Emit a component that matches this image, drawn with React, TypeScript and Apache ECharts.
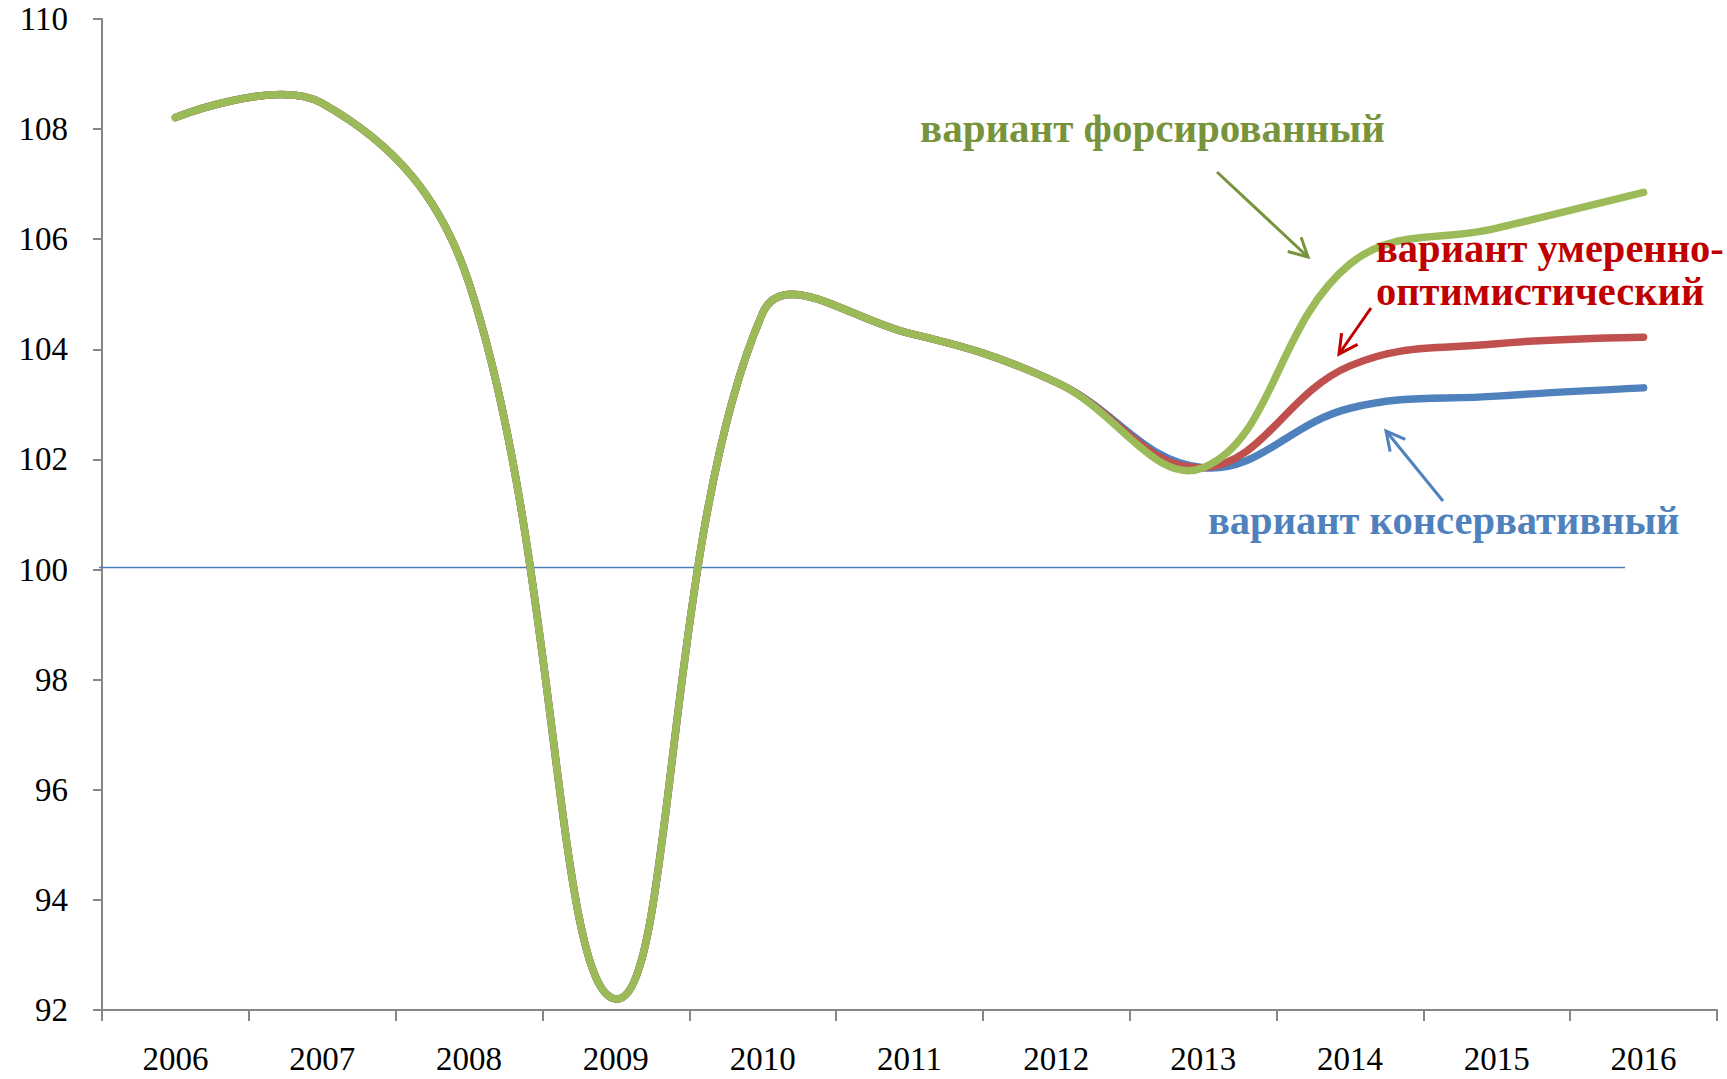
import React, { useEffect, useRef } from "react";
import * as echarts from "echarts";

// ---- data ----
const years = ["2006", "2007", "2008", "2009", "2010", "2011", "2012", "2013", "2014", "2015", "2016"];
const forced = [108.21, 108.47, 105.2, 92.2, 104.66, 104.29, 103.4, 101.85, 105.55, 106.2, 106.85];
const moderate = [108.21, 108.47, 105.2, 92.2, 104.66, 104.29, 103.4, 101.85, 103.7, 104.1, 104.22];
const conservative = [108.21, 108.47, 105.2, 92.2, 104.66, 104.29, 103.4, 101.85, 102.93, 103.15, 103.3];
const referenceLevel = 100;
const yMin = 92;
const yMax = 110;
const yStep = 2;

const labelForced = "вариант форсированный";
const labelModerate1 = "вариант умеренно-";
const labelModerate2 = "оптимистический";
const labelConservative = "вариант консервативный";

const GREEN = "#9BBB59";
const RED = "#C0504D";
const BLUE = "#4F81BD";
const GREEN_TXT = "#77933C";
const RED_TXT = "#C00000";
const BLUE_TXT = "#4F81BD";
const AXIS = "#868686";
const SERIF = "'Liberation Serif', 'DejaVu Serif', serif";

function curveSeries(name: string, values: number[], color: string) {
  return {
    name,
    type: "custom",
    coordinateSystem: "cartesian2d",
    encode: { x: 0, y: 1 },
    data: values.map((v, i) => [i, v]),
    renderItem: (params: any, api: any) => {
      if (params.dataIndex !== 0) return null;
      const pts = values.map((v, i) => api.coord([i, v]));
      return {
        type: "polyline",
        shape: { points: pts, smooth: 0.4 },
        style: {
          stroke: color,
          lineWidth: 7.5,
          fill: "none",
          lineCap: "round",
          lineJoin: "round",
        },
      };
    },
  };
}

function arrow(x1: number, y1: number, x2: number, y2: number, color: string) {
  const ang = Math.atan2(y2 - y1, x2 - x1);
  const len = 21;
  const spread = Math.PI / 6.5;
  const a1 = [x2 - len * Math.cos(ang - spread), y2 - len * Math.sin(ang - spread)];
  const a2 = [x2 - len * Math.cos(ang + spread), y2 - len * Math.sin(ang + spread)];
  return [
    {
      type: "line",
      shape: { x1, y1, x2, y2 },
      style: { stroke: color, lineWidth: 3 },
      z: 100,
    },
    {
      type: "polyline",
      shape: { points: [a1, [x2, y2], a2] },
      style: { stroke: color, lineWidth: 3, fill: "none" },
      z: 100,
    },
  ];
}

function label(text: string, x: number, y: number, color: string, size: number) {
  return {
    type: "text",
    x,
    y,
    z: 100,
    style: {
      text,
      fill: color,
      fontSize: size,
      fontWeight: "bold",
      fontFamily: SERIF,
      textAlign: "left",
      textVerticalAlign: "middle",
    },
  };
}

export default function App() {
  const ref = useRef<HTMLDivElement>(null);

  useEffect(() => {
    if (!ref.current) return;
    const chart = echarts.init(ref.current, null, { renderer: "svg" });
    chart.setOption({
      animation: false,
      backgroundColor: "#ffffff",
      grid: { left: 102, right: 10, top: 19, bottom: 69 },
      xAxis: {
        type: "category",
        data: years,
        boundaryGap: true,
        axisLine: { show: true, lineStyle: { color: AXIS, width: 2 } },
        axisTick: { show: true, interval: 0, length: 11, lineStyle: { color: AXIS, width: 2 } },
        axisLabel: {
          interval: 0,
          margin: 32,
          color: "#000",
          fontFamily: SERIF,
          fontSize: 33,
        },
        splitLine: { show: false },
      },
      yAxis: {
        type: "value",
        min: yMin,
        max: yMax,
        interval: yStep,
        axisLine: { show: true, lineStyle: { color: AXIS, width: 2 } },
        axisTick: { show: true, length: 9, lineStyle: { color: AXIS, width: 2 } },
        axisLabel: {
          margin: 34,
          color: "#000",
          fontFamily: SERIF,
          fontSize: 33,
        },
        splitLine: { show: false },
      },
      series: [
        curveSeries("вариант консервативный", conservative, BLUE),
        curveSeries("вариант умеренно-оптимистический", moderate, RED),
        curveSeries("вариант форсированный", forced, GREEN),
      ],
    });

    const y100 = chart.convertToPixel({ yAxisIndex: 0 }, referenceLevel) as number;

    chart.setOption({
      graphic: [
        {
          type: "line",
          shape: { x1: 99, y1: y100 - 2, x2: 1625, y2: y100 - 2 },
          style: { stroke: "#4A7EBB", lineWidth: 1.5 },
          z: 1,
        },
        label(labelForced, 920, 128, GREEN_TXT, 41),
        label(labelModerate1, 1376, 248, RED_TXT, 40.5),
        label(labelModerate2, 1376, 291, RED_TXT, 40.5),
        label(labelConservative, 1208, 520, BLUE_TXT, 40.5),
        ...arrow(1217, 172, 1308, 257, GREEN_TXT),
        ...arrow(1371, 308, 1339, 354, RED_TXT),
        ...arrow(1443, 501, 1386, 431, BLUE_TXT),
      ],
    });

    return () => chart.dispose();
  }, []);

  return (
    <div
      ref={ref}
      style={{ position: "absolute", left: 0, top: 0, width: 1727, height: 1079 }}
    />
  );
}
